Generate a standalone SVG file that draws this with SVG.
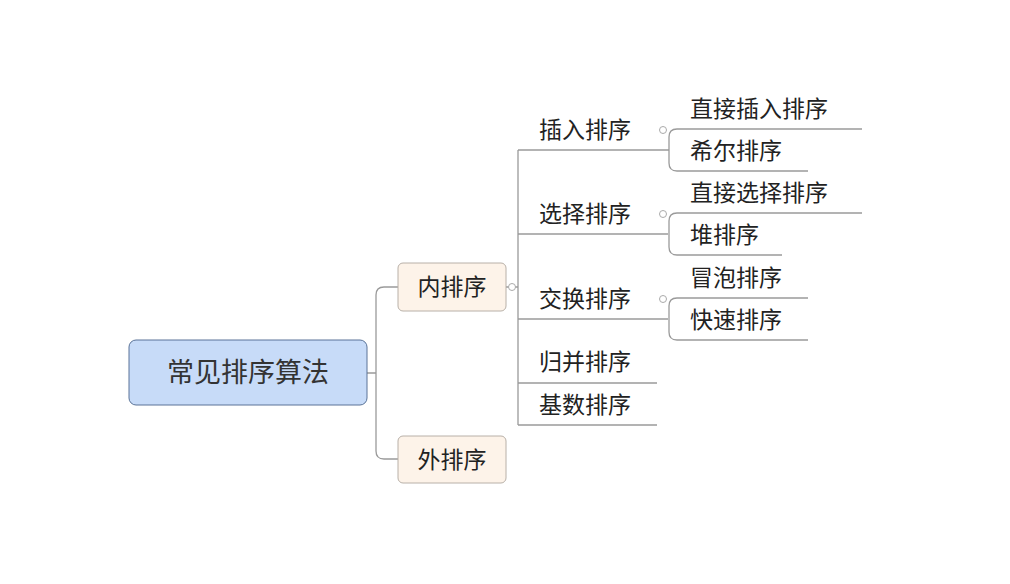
<svg xmlns="http://www.w3.org/2000/svg" width="1010" height="584" viewBox="0 0 1010 584">
<style>
text{font-family:"Noto Sans CJK SC",sans-serif;font-size:23px;fill:#222}
.c{fill:none;stroke:#9a9a9a;stroke-width:1.3}
.t{fill:#fdf3e9;stroke:#b8b0a8;stroke-width:1}
.k{fill:#fff;stroke:#aaa;stroke-width:1}
</style>
<rect width="1010" height="584" fill="#fff"/>
<g id="connectors">
<path class="c" d="M367,373H376M398,287H384Q376,287 376,295V451Q376,459 384,459H398"/>
<path class="c" d="M506,287H518M518,150V425M518,150H668M518,234H668M518,319H668M518,383H657M518,425H657"/>
<path class="c" d="M668,150H669M677,129H862M677,129Q669,129 669,137V163Q669,171 677,171H808"/>
<path class="c" d="M677,213H862M677,213Q669,213 669,221V247Q669,255 677,255H782"/>
<path class="c" d="M677,298H808M677,298Q669,298 669,306V332Q669,340 677,340H808"/>
<circle class="k" cx="512" cy="287" r="3.5"/>
<circle class="k" cx="663" cy="130" r="3.5"/>
<circle class="k" cx="663" cy="214" r="3.5"/>
<circle class="k" cx="663" cy="299" r="3.5"/>
</g>
<g id="root"><rect x="129" y="340" width="238" height="65" rx="7" fill="#c7dbf8" stroke="#5a7398"/><text x="248" y="382" text-anchor="middle" style="font-size:27px;fill:#333">常见排序算法</text></g>
<g id="inner"><rect class="t" x="398" y="263" width="108" height="48" rx="5"/><text x="452" y="295" text-anchor="middle">内排序</text></g>
<g id="outer"><rect class="t" x="398" y="436" width="108" height="47" rx="5"/><text x="452" y="468" text-anchor="middle">外排序</text></g>
<g id="n1"><text x="539" y="138">插入排序</text></g>
<g id="n2"><text x="539" y="222">选择排序</text></g>
<g id="n3"><text x="539" y="307">交换排序</text></g>
<g id="n4"><text x="539" y="370">归并排序</text></g>
<g id="n5"><text x="539" y="413">基数排序</text></g>
<g id="n11"><text x="690" y="117">直接插入排序</text></g>
<g id="n12"><text x="690" y="159">希尔排序</text></g>
<g id="n21"><text x="690" y="201">直接选择排序</text></g>
<g id="n22"><text x="690" y="243">堆排序</text></g>
<g id="n31"><text x="690" y="286">冒泡排序</text></g>
<g id="n32"><text x="690" y="328">快速排序</text></g>
</svg>
